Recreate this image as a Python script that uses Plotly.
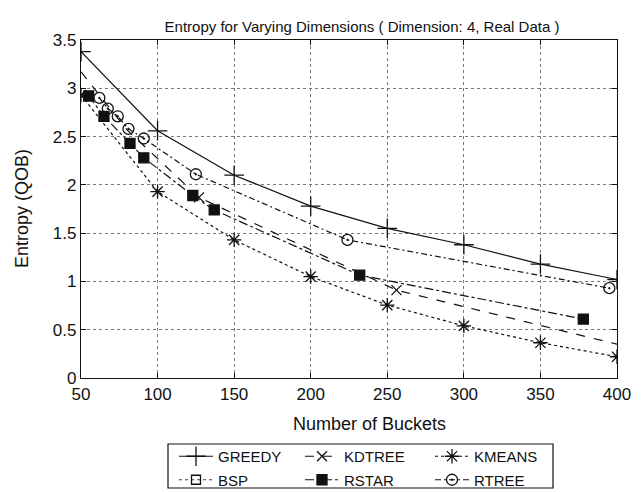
import plotly.graph_objects as go

# Bucket counts and measured entropy per partitioning method
greedy_x = [50, 100, 150, 200, 250, 300, 350, 400]
greedy_y = [3.38, 2.56, 2.10, 1.78, 1.55, 1.38, 1.18, 1.02]

kdtree_x = [50, 80, 127, 256, 400]
kdtree_y = [3.17, 2.57, 1.87, 0.91, 0.35]
kdtree_marked = [2, 3]  # indices of points drawn with a marker

kmeans_x = [50, 100, 150, 200, 250, 300, 350, 400]
kmeans_y = [2.93, 1.93, 1.43, 1.05, 0.755, 0.54, 0.365, 0.22]

bsp_x = [None]
bsp_y = [None]

rstar_x = [55, 65, 82, 91, 123, 137, 232, 378]
rstar_y = [2.92, 2.71, 2.43, 2.28, 1.89, 1.74, 1.065, 0.61]

rtree_x = [62, 67.5, 74, 81, 91, 125, 224, 395]
rtree_y = [2.90, 2.79, 2.71, 2.58, 2.48, 2.11, 1.43, 0.93]

x_ticks = [50, 100, 150, 200, 250, 300, 350, 400]
y_ticks = [0, 0.5, 1, 1.5, 2, 2.5, 3, 3.5]

FONT = "Liberation Sans, Arial, Helvetica, sans-serif"
INK = "#111111"

# plot-area geometry in pixels
W, H = 644, 492
L, R, T, B = 81, 27, 40, 114
PW, PH = W - L - R, H - T - B


def px_x(p):
    return (p - L) / PW


def px_y(p):
    return (H - B - p) / PH


fig = go.Figure()


def add_series(name, xs, ys, dash, symbol, size, legend, line_w=1.2,
               marked=None):
    extra = {}
    if marked is not None:
        extra = dict(selectedpoints=marked,
                     unselected=dict(marker=dict(opacity=0)))
    fig.add_trace(go.Scatter(
        x=xs, y=ys, name=name, mode="lines+markers",
        legend=legend, legendgroup=name,
        line=dict(color=INK, width=line_w, dash=dash),
        marker=dict(symbol=symbol, size=size,
                    color=INK, line=dict(color=INK, width=1.3)),
        **extra,
    ))


# three legend columns, two entries each
add_series("GREEDY", greedy_x, greedy_y, "solid", "cross-thin", 14, "legend")
add_series("BSP", bsp_x, bsp_y, "dot", "square-open", 9, "legend", line_w=0.8)
add_series("KDTREE", kdtree_x, kdtree_y, "dash", "x-thin", 10, "legend2",
           marked=kdtree_marked)
add_series("RSTAR", rstar_x, rstar_y, "dashdot", "square", 10, "legend2")
add_series("KMEANS", kmeans_x, kmeans_y, "dot", "asterisk", 12, "legend3")
add_series("RTREE", rtree_x, rtree_y, "6px,3px,2px,3px", "circle-open-dot", 11,
           "legend3")

axis_common = dict(
    showline=True, linecolor=INK, linewidth=1.2, mirror="ticks",
    ticks="inside", ticklen=5, tickcolor=INK,
    showgrid=True, gridcolor="#777777", griddash="dot", gridwidth=1,
    zeroline=False,
    tickfont=dict(family=FONT, size=17, color=INK),
)

fig.update_xaxes(range=[50, 400], tickvals=x_ticks,
                 ticktext=[str(v) for v in x_ticks], **axis_common)
fig.update_yaxes(range=[0, 3.5], tickvals=y_ticks,
                 ticktext=[f"{v:g}" for v in y_ticks], **axis_common)

LEG_TOP = 444
LEG_BOTTOM = 488
LEG_LEFT = 168
LEG_RIGHT = 553


def legend_column(left_px):
    return dict(orientation="v", xref="paper", yref="paper",
                x=px_x(left_px), xanchor="left",
                y=px_y(LEG_TOP - 4), yanchor="top",
                borderwidth=0, bgcolor="rgba(0,0,0,0)",
                font=dict(family=FONT, size=15, color=INK),
                itemwidth=34, tracegroupgap=1)


fig.update_layout(
    width=W, height=H,
    margin=dict(l=L, r=R, t=T, b=B, autoexpand=False),
    paper_bgcolor="white", plot_bgcolor="white",
    font=dict(family=FONT, color=INK),
    showlegend=True,
    title=dict(text="Entropy for Varying Dimensions ( Dimension: 4, Real Data )",
               font=dict(family=FONT, size=15, color=INK),
               xref="paper", x=px_x(362), xanchor="center",
               yref="container", y=1 - 27 / H, yanchor="middle"),
    legend=legend_column(LEG_LEFT + 6),
    legend2=legend_column(LEG_LEFT + 132),
    legend3=legend_column(LEG_LEFT + 262),
    shapes=[
        dict(type="rect", xref="paper", yref="paper",
             x0=px_x(LEG_LEFT), x1=px_x(LEG_RIGHT),
             y0=px_y(LEG_BOTTOM), y1=px_y(LEG_TOP),
             line=dict(color=INK, width=1.2), fillcolor="rgba(0,0,0,0)"),
    ],
    annotations=[
        dict(text="Number of Buckets", xref="paper", yref="paper",
             x=px_x(369), y=px_y(424), xanchor="center", yanchor="middle",
             showarrow=False, font=dict(family=FONT, size=18, color=INK)),
        dict(text="Entropy (QOB)", xref="paper", yref="paper",
             x=px_x(22), y=px_y(209), xanchor="center", yanchor="middle",
             textangle=-90, showarrow=False,
             font=dict(family=FONT, size=18, color=INK)),
    ],
)

fig.write_html("out.html")
